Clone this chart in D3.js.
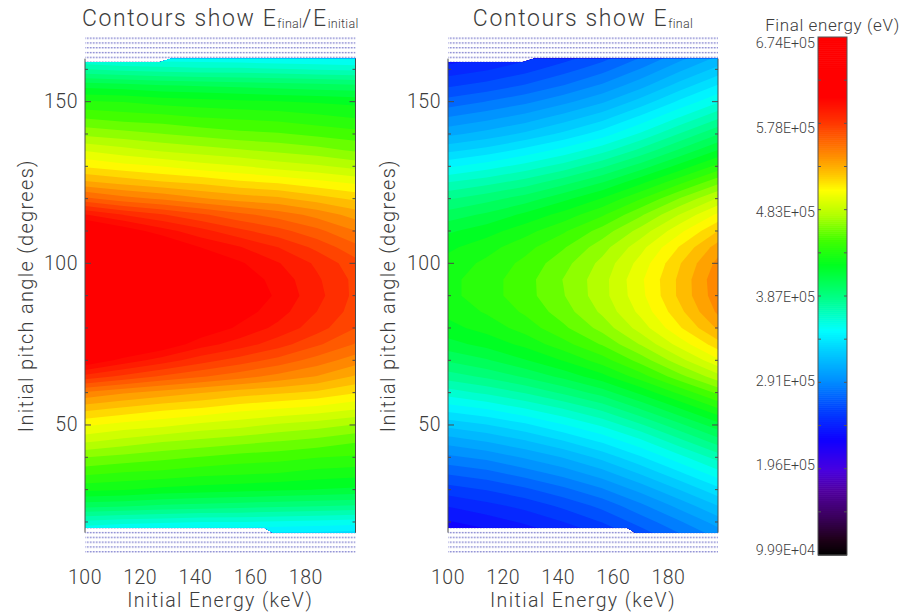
<!DOCTYPE html>
<html>
<head>
<meta charset="utf-8">
<script src="https://cdn.jsdelivr.net/npm/d3@7"></script>
<style>
  body { margin: 0; background: #fff; }
  text { font-family: Roboto, "Open Sans", "DejaVu Sans", sans-serif; font-weight: 300; fill: #3c3c3c; }
</style>
</head>
<body>
<svg id="chart" width="907" height="615"></svg>
<script>
// Grid of simulation runs: columns = initial energy (keV), rows = initial pitch angle (deg)
const initialEnergy = [100, 114, 128, 142, 156, 170, 184, 198];
const pitchAngle = [10, 15, 20, 25, 30, 35, 40, 45, 50, 55, 60, 65, 70, 75, 80, 85, 90,
                    95, 100, 105, 110, 115, 120, 125, 130, 135, 140, 145, 150, 155, 160, 165, 170];

// E_final / E_initial, one row per pitch angle (10° .. 170°)
const energyRatio = [
  [2.16, 2.16, 2.16, 2.16, 2.16, 2.16, 2.16, 2.16],
  [2.36, 2.35, 2.34, 2.34, 2.34, 2.33, 2.33, 2.32],
  [2.54, 2.52, 2.51, 2.50, 2.50, 2.49, 2.48, 2.47],
  [2.74, 2.73, 2.71, 2.70, 2.69, 2.68, 2.67, 2.66],
  [2.90, 2.89, 2.87, 2.86, 2.85, 2.84, 2.83, 2.82],
  [3.01, 2.99, 2.98, 2.96, 2.95, 2.94, 2.92, 2.91],
  [3.11, 3.09, 3.07, 3.05, 3.03, 3.02, 3.00, 2.99],
  [3.23, 3.20, 3.17, 3.15, 3.13, 3.11, 3.09, 3.06],
  [3.34, 3.31, 3.29, 3.26, 3.24, 3.21, 3.19, 3.16],
  [3.46, 3.43, 3.40, 3.38, 3.35, 3.33, 3.31, 3.28],
  [3.60, 3.56, 3.53, 3.50, 3.47, 3.45, 3.43, 3.39],
  [3.81, 3.76, 3.71, 3.67, 3.63, 3.59, 3.55, 3.49],
  [4.00, 3.92, 3.86, 3.80, 3.75, 3.70, 3.64, 3.58],
  [4.13, 4.05, 3.99, 3.91, 3.86, 3.80, 3.73, 3.66],
  [4.23, 4.14, 4.07, 3.99, 3.93, 3.87, 3.80, 3.72],
  [4.30, 4.20, 4.12, 4.04, 3.97, 3.91, 3.83, 3.75],
  [4.33, 4.23, 4.15, 4.06, 4.00, 3.93, 3.85, 3.76],
  [4.31, 4.21, 4.13, 4.05, 3.98, 3.92, 3.84, 3.76],
  [4.26, 4.16, 4.09, 4.01, 3.95, 3.89, 3.82, 3.74],
  [4.18, 4.09, 4.02, 3.94, 3.89, 3.83, 3.76, 3.68],
  [4.06, 3.98, 3.91, 3.85, 3.79, 3.74, 3.68, 3.61],
  [3.89, 3.83, 3.78, 3.73, 3.68, 3.64, 3.59, 3.53],
  [3.68, 3.63, 3.60, 3.56, 3.53, 3.51, 3.47, 3.43],
  [3.51, 3.48, 3.45, 3.43, 3.40, 3.38, 3.35, 3.32],
  [3.38, 3.35, 3.33, 3.30, 3.28, 3.25, 3.23, 3.20],
  [3.27, 3.24, 3.21, 3.19, 3.17, 3.15, 3.13, 3.10],
  [3.15, 3.13, 3.11, 3.09, 3.07, 3.06, 3.04, 3.02],
  [3.05, 3.03, 3.02, 3.00, 2.99, 2.98, 2.96, 2.94],
  [2.95, 2.94, 2.92, 2.91, 2.90, 2.89, 2.88, 2.87],
  [2.81, 2.80, 2.78, 2.77, 2.76, 2.75, 2.74, 2.73],
  [2.61, 2.59, 2.58, 2.57, 2.57, 2.56, 2.55, 2.54],
  [2.43, 2.42, 2.41, 2.41, 2.40, 2.39, 2.39, 2.38],
  [2.24, 2.24, 2.24, 2.24, 2.23, 2.23, 2.23, 2.23]
];

// E_final in keV, one row per pitch angle (10° .. 170°)
const finalEnergy = [
  [213, 218, 224, 231, 240, 252, 266, 280],
  [223, 228, 234, 242, 251, 264, 278, 292],
  [233, 238, 245, 253, 263, 276, 290, 305],
  [244, 250, 256, 265, 275, 289, 304, 320],
  [258, 263, 270, 279, 290, 304, 320, 336],
  [273, 278, 286, 295, 306, 321, 337, 354],
  [289, 294, 302, 311, 323, 338, 355, 372],
  [305, 311, 319, 329, 341, 356, 374, 392],
  [323, 329, 337, 348, 360, 376, 394, 412],
  [343, 349, 358, 368, 380, 397, 415, 434],
  [363, 370, 378, 389, 401, 418, 437, 456],
  [382, 389, 398, 409, 422, 440, 460, 479],
  [398, 405, 415, 426, 440, 458, 479, 500],
  [412, 419, 428, 441, 455, 474, 496, 517],
  [422, 429, 439, 452, 467, 487, 510, 532],
  [428, 436, 446, 459, 475, 495, 518, 542],
  [432, 440, 450, 463, 479, 499, 523, 546],
  [432, 440, 450, 464, 479, 500, 523, 547],
  [429, 437, 447, 460, 476, 496, 520, 543],
  [423, 431, 441, 453, 469, 489, 512, 535],
  [414, 421, 431, 443, 458, 477, 499, 521],
  [401, 408, 418, 429, 443, 462, 483, 504],
  [386, 393, 401, 413, 426, 444, 464, 484],
  [368, 374, 382, 393, 406, 423, 442, 461],
  [347, 354, 362, 372, 385, 401, 419, 438],
  [327, 333, 342, 352, 364, 380, 398, 416],
  [308, 314, 322, 332, 344, 360, 378, 396],
  [292, 298, 305, 315, 326, 342, 359, 376],
  [276, 282, 289, 298, 309, 324, 341, 357],
  [261, 266, 273, 282, 293, 307, 324, 340],
  [247, 252, 259, 268, 278, 292, 308, 323],
  [235, 240, 247, 255, 265, 278, 293, 308],
  [225, 230, 236, 244, 253, 266, 280, 294]
];

// Edges of the sampled region (initial energy keV, pitch angle deg); outside is the loss cone
const dataBottom = [[100, 18.2], [165, 18.2], [168, 16.7], [198, 16.7]];
const dataTop = [[100, 162.2], [127, 162.2], [131, 163.3], [198, 163.3]];

const ratioRange = [1.0, 4.33];
const energyTicks = [100, 120, 140, 160, 180];
const pitchTicks = [50, 100, 150];
const pitchMinorTicks = [20, 30, 40, 60, 70, 80, 90, 110, 120, 130, 140, 160];
const colorbarTicks = [99900, 195600, 291300, 386900, 482600, 578300, 674000];

// Rainbow colour table (fraction of range -> colour)
const rainbowStops = [0, 0.03, 0.077, 0.125, 0.165, 0.222, 0.28, 0.338, 0.396, 0.434, 0.492, 0.56, 0.608, 0.656, 0.705, 0.734, 0.78, 0.84, 0.885, 1];
const rainbowColors = ["#000000", "#1e0018", "#3c0060", "#5000a0", "#4800e0", "#1000ff", "#0040ff", "#0090ff", "#00d0ff", "#00ffff",
                       "#00ff90", "#00ff20", "#40ff00", "#b0ff00", "#ffff00", "#ffc800", "#ff8000", "#ff3000", "#ff0000", "#ff0000"];
const rainbow = d3.scaleLinear().domain(rainbowStops).range(rainbowColors).interpolate(d3.interpolateRgb).clamp(true);

const levels = 60;
const svg = d3.select("#chart");
const defs = svg.append("defs");

// dotted line fill for the unsampled band
const hatch = defs.append("pattern").attr("id", "hatch").attr("patternUnits", "userSpaceOnUse")
  .attr("width", 3).attr("height", 4.8).attr("y", 37.5);
hatch.append("rect").attr("width", 3).attr("height", 4.8).attr("fill", "#ffffff");
hatch.append("rect").attr("width", 3).attr("height", 1.3).attr("fill", "#e3e3f6");
hatch.append("rect").attr("width", 1.5).attr("height", 1.3).attr("fill", "#8c8cd2");

const y = d3.scaleLinear().domain([10, 170]).range([554.3, 37]);

function drawPanel(opts) {
  const x = d3.scaleLinear().domain([100, 198]).range([opts.left, opts.right]);
  const g = svg.append("g");

  g.append("rect")
    .attr("x", x(100)).attr("y", y(170))
    .attr("width", x(198) - x(100)).attr("height", y(10) - y(170))
    .attr("fill", "url(#hatch)");

  const region = dataBottom.map(p => [x(p[0]), y(p[1])])
    .concat(dataTop.slice().reverse().map(p => [x(p[0]), y(p[1])]));
  defs.append("clipPath").attr("id", "clip-" + opts.id)
    .append("path").attr("d", d3.line()(region) + "Z");

  const n = initialEnergy.length, m = pitchAngle.length;
  const gx = d3.scaleLinear().domain([0.5, n - 0.5]).range([initialEnergy[0], initialEnergy[n - 1]]);
  const gy = d3.scaleLinear().domain([0.5, m - 0.5]).range([pitchAngle[0], pitchAngle[m - 1]]);
  const values = opts.grid.flat().map(opts.value);
  const [lo, hi] = opts.domain;
  const step = (hi - lo) / levels;
  const thresholds = d3.range(levels).map(i => lo + i * step);
  const bands = d3.contours().size([n, m]).thresholds(thresholds)(values);
  const proj = d3.geoTransform({
    point(px, py) { this.stream.point(x(gx(px)), y(gy(py))); }
  });
  const path = d3.geoPath(proj);

  g.append("g").attr("clip-path", `url(#clip-${opts.id})`)
    .selectAll("path").data(bands).join("path")
    .attr("d", path)
    .attr("fill", d => rainbow((d.value + step / 2 - lo) / (hi - lo)));

  // frame sides with inward ticks
  const yTop = y(d3.max(dataTop, d => d[1])), yBot = y(d3.min(dataBottom, d => d[1]));
  const axis = g.append("g").attr("stroke", "#4a4a4a").attr("stroke-width", 1);
  [x(100), x(198)].forEach((px, k) => {
    const dir = k === 0 ? 1 : -1;
    axis.append("line").attr("x1", px).attr("x2", px).attr("y1", yTop).attr("y2", yBot);
    axis.selectAll(null).data(pitchTicks).join("line")
      .attr("x1", px).attr("x2", px + dir * 6).attr("y1", d => y(d)).attr("y2", d => y(d));
    axis.selectAll(null).data(pitchMinorTicks).join("line")
      .attr("x1", px).attr("x2", px + dir * 3).attr("y1", d => y(d)).attr("y2", d => y(d));
  });

  g.selectAll(null).data(pitchTicks).join("text")
    .attr("x", x(100) - 7).attr("y", d => y(d))
    .attr("text-anchor", "end").attr("dominant-baseline", "central")
    .attr("font-size", 19.5).attr("letter-spacing", 0.5).text(d => d);

  g.selectAll(null).data(energyTicks).join("text")
    .attr("x", d => x(d)).attr("y", 577)
    .attr("text-anchor", "middle").attr("dominant-baseline", "central")
    .attr("font-size", 19.5).attr("letter-spacing", 0.5).text(d => d);

  g.append("text").attr("x", (x(100) + x(198)) / 2).attr("y", 600)
    .attr("text-anchor", "middle").attr("dominant-baseline", "central")
    .attr("font-size", 19.5).attr("letter-spacing", 1.4).text("Initial Energy (keV)");

  g.append("text")
    .attr("transform", `translate(${opts.ylabelX},${(y(170) + y(10)) / 2}) rotate(-90)`)
    .attr("text-anchor", "middle").attr("dominant-baseline", "central")
    .attr("font-size", 20).attr("letter-spacing", 1.3).text("Initial pitch angle (degrees)");

  const title = g.append("text").attr("x", (x(100) + x(198)) / 2).attr("y", 18)
    .attr("text-anchor", "middle").attr("dominant-baseline", "central")
    .attr("font-size", 23).attr("letter-spacing", 1.6);
  opts.title(title);
}

drawPanel({
  id: "ratio", left: 85, right: 355.5, ylabelX: 26,
  grid: energyRatio, value: v => v, domain: ratioRange,
  title: t => {
    t.append("tspan").text("Contours show E");
    t.append("tspan").attr("font-size", 12.5).attr("dy", 5).attr("letter-spacing", 0.3).text("final");
    t.append("tspan").attr("dy", -5).text("/E");
    t.append("tspan").attr("font-size", 12.5).attr("dy", 5).attr("letter-spacing", 0.3).text("initial");
  }
});

drawPanel({
  id: "final", left: 448, right: 718, ylabelX: 388,
  grid: finalEnergy, value: v => v * 1000, domain: d3.extent(colorbarTicks),
  title: t => {
    t.append("tspan").text("Contours show E");
    t.append("tspan").attr("font-size", 12.5).attr("dy", 5).attr("letter-spacing", 0.3).text("final");
  }
});

// colour bar
const cb = svg.append("g");
const cbX = 818, cbW = 29;
const cbY = d3.scaleLinear().domain(d3.extent(colorbarTicks)).range([555, 37]);
const cbLabelY = d3.scaleLinear().domain(d3.extent(colorbarTicks)).range([550, 43]);
const [cbLo, cbHi] = d3.extent(colorbarTicks);
const slices = d3.range(256).map(i => cbLo + (i / 256) * (cbHi - cbLo));
const sliceH = (cbY(cbLo) - cbY(cbHi)) / 256;
cb.selectAll("rect.slice").data(slices).join("rect").attr("class", "slice")
  .attr("x", cbX).attr("width", cbW)
  .attr("y", d => cbY(d) - sliceH).attr("height", sliceH + 0.6)
  .attr("fill", d => rainbow((d + (cbHi - cbLo) / 512 - cbLo) / (cbHi - cbLo)));
cb.append("rect").attr("x", cbX).attr("y", cbY(cbHi)).attr("width", cbW).attr("height", cbY(cbLo) - cbY(cbHi))
  .attr("fill", "none").attr("stroke", "#555").attr("stroke-width", 1);
const halfTicks = d3.range(colorbarTicks.length * 2 - 1).map(i => cbLo + i * (cbHi - cbLo) / ((colorbarTicks.length - 1) * 2));
cb.selectAll("line.tk").data(halfTicks.slice(1, -1)).join("line").attr("class", "tk")
  .attr("x1", cbX).attr("x2", cbX + 3).attr("y1", d => cbY(d)).attr("y2", d => cbY(d)).attr("stroke", "#555");
cb.selectAll("line.tk2").data(halfTicks.slice(1, -1)).join("line").attr("class", "tk2")
  .attr("x1", cbX + cbW).attr("x2", cbX + cbW - 3).attr("y1", d => cbY(d)).attr("y2", d => cbY(d)).attr("stroke", "#555");

const sci = v => {
  const [m, e] = v.toExponential(2).toUpperCase().split("E");
  const ex = parseInt(e, 10);
  return m + "E" + (ex < 0 ? "-" : "+") + String(Math.abs(ex)).padStart(2, "0");
};
cb.selectAll("text.lab").data(colorbarTicks).join("text").attr("class", "lab")
  .attr("x", cbX - 3).attr("y", d => cbLabelY(d))
  .attr("text-anchor", "end").attr("dominant-baseline", "central")
  .attr("font-size", 14.3).text(sci);
cb.append("text").attr("x", cbX + cbW / 2).attr("y", 25)
  .attr("text-anchor", "middle").attr("dominant-baseline", "central")
  .attr("font-size", 17).attr("letter-spacing", 0.6).text("Final energy (eV)");
</script>
</body>
</html>
